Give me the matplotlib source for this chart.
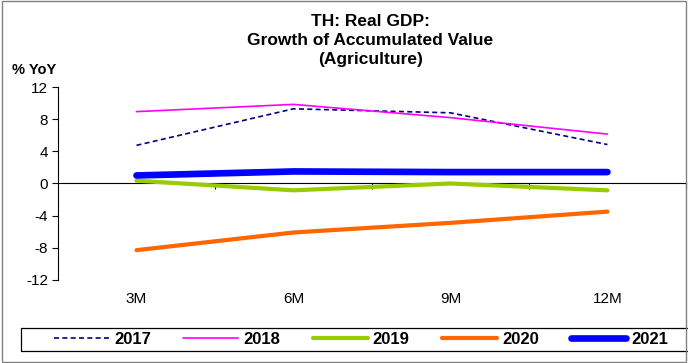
import matplotlib
matplotlib.use("Agg")
import matplotlib.pyplot as plt
from matplotlib.patches import Rectangle

plt.rcParams['font.family'] = ['Liberation Sans', 'DejaVu Sans']
plt.rcParams['axes.unicode_minus'] = False

# data
periods = ['3M', '6M', '9M', '12M']
years = ['2017', '2018', '2019', '2020', '2021']
y2017 = [4.75, 9.3, 8.8, 4.85]
y2018 = [8.95, 9.85, 8.2, 6.15]
y2019 = [0.35, -0.85, 0.0, -0.85]
y2020 = [-8.3, -6.1, -4.9, -3.5]
y2021 = [1.0, 1.5, 1.42, 1.42]
yticks = [-12, -8, -4, 0, 4, 8, 12]

series = [y2017, y2018, y2019, y2020, y2021]
colors = ['#000080', '#FF00FF', '#99CC00', '#FF6600', '#0000FF']
widths = [1.2, 1.2, 3.0, 3.0, 4.8]
styles = [(0, (3, 2)), '-', '-', '-', '-']

fig = plt.figure(figsize=(6.88, 3.63), dpi=100)
ax = fig.add_axes([0.0843, 0.229, 0.9127, 0.531])

x = range(len(periods))
for vals, c, w, s, lab in zip(series, colors, widths, styles, years):
    ax.plot(x, vals, color=c, lw=w, linestyle=s, label=lab, solid_capstyle='round')

ax.set_xlim(-0.5, 3.5)
ax.set_ylim(-12, 12)
ax.set_yticks(yticks)
ax.tick_params(axis='y', direction='out', length=4, width=0.8, labelsize=11, pad=3)
ax.set_xticks(list(x))
ax.set_xticklabels(periods, fontsize=11)
ax.tick_params(axis='x', length=0, pad=9)
for side in ['top', 'right', 'bottom']:
    ax.spines[side].set_visible(False)
ax.spines['left'].set_linewidth(0.8)

# zero line with ticks between categories
zero = ax.secondary_xaxis(0.5)
zero.xaxis.set_ticks_position('bottom')
zero.set_xticks([0.5, 1.5, 2.5, 3.5])
zero.set_xticklabels([])
zero.tick_params(direction='out', length=4, width=0.8, labelbottom=False, labeltop=False)
for sp in zero.spines.values():
    sp.set_linewidth(0.8)

fig.text(0.538, 0.962, 'TH: Real GDP:\nGrowth of Accumulated Value\n(Agriculture)',
         ha='center', va='top', fontsize=12.5, fontweight='bold', linespacing=1.35)
fig.text(0.017, 0.806, '% YoY', ha='left', va='center', fontsize=10.5, fontweight='bold')

leg = fig.legend(loc='center', ncol=5, bbox_to_anchor=(0.525, 0.0647),
                 frameon=False, prop={'weight': 'bold', 'size': 12},
                 handlelength=3.3, handletextpad=0.3, columnspacing=1.95)

fig.patches.append(Rectangle((0.0305, 0.033), 1.0, 0.0634, transform=fig.transFigure,
                             fill=False, edgecolor='black', lw=0.9))
fig.patches.append(Rectangle((0.003, 0.003), 0.994, 0.994, transform=fig.transFigure,
                             fill=False, edgecolor='#808080', lw=1))

fig.savefig('out.png', dpi=100)
